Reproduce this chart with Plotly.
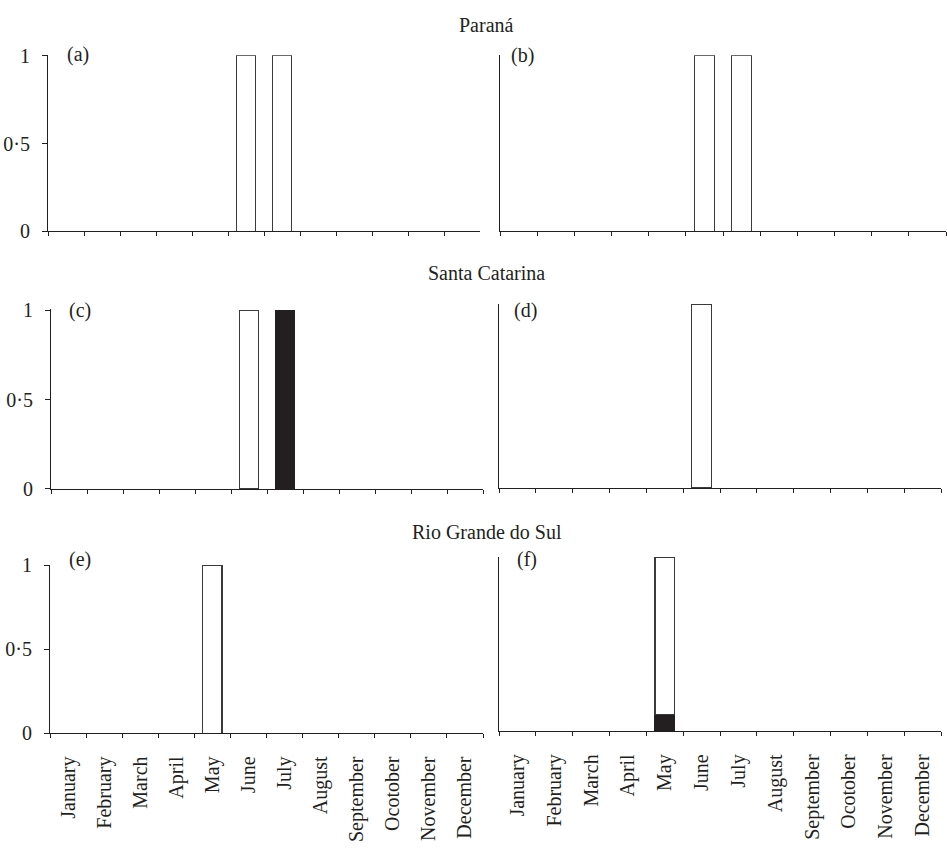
import plotly.graph_objects as go

# ---------------- data ----------------
months = ["January", "February", "March", "April", "May", "June", "July",
          "August", "September", "Ocotober", "November", "December"]
y_tick_vals = [0, 0.5, 1]
y_tick_text = ["0", "0·5", "1"]
region_titles = ["Paraná", "Santa Catarina", "Rio Grande do Sul"]
panel_labels = ["(a)", "(b)", "(c)", "(d)", "(e)", "(f)"]

# open (white) bars
open_a = [0, 0, 0, 0, 0, 1, 1, 0, 0, 0, 0, 0]
open_b = [0, 0, 0, 0, 0, 1, 1, 0, 0, 0, 0, 0]
open_c = [0, 0, 0, 0, 0, 1, 0, 0, 0, 0, 0, 0]
open_d = [0, 0, 0, 0, 0, 1.03, 0, 0, 0, 0, 0, 0]
open_e = [0, 0, 0, 0, 1, 0, 0, 0, 0, 0, 0, 0]
open_f = [0, 0, 0, 0, 0.935, 0, 0, 0, 0, 0, 0, 0]
# filled (black) bars
filled_a = [0, 0, 0, 0, 0, 0, 0, 0, 0, 0, 0, 0]
filled_b = [0, 0, 0, 0, 0, 0, 0, 0, 0, 0, 0, 0]
filled_c = [0, 0, 0, 0, 0, 0, 1, 0, 0, 0, 0, 0]
filled_d = [0, 0, 0, 0, 0, 0, 0, 0, 0, 0, 0, 0]
filled_e = [0, 0, 0, 0, 0, 0, 0, 0, 0, 0, 0, 0]
filled_f = [0, 0, 0, 0, 0.1, 0, 0, 0, 0, 0, 0, 0]

open_series = [open_a, open_b, open_c, open_d, open_e, open_f]
filled_series = [filled_a, filled_b, filled_c, filled_d, filled_e, filled_f]

# ---------------- layout geometry (pixels) ----------------
W, H = 947, 855
# x0, x1, pixel of value 0, pixel of value 1
geom = [
    (48, 480, 227, 47),
    (500, 946, 227, 47),
    (51, 483, 491, 307.7),
    (499, 941, 490, 307.7),
    (50, 483, 741.7, 569.3),
    (499, 941, 739.5, 567.1),
]
label_pos = [(65, 46), (509, 47), (67, 308), (512, 308), (67, 563), (515, 563)]
title_pos = [(487, 15.5), (487, 270), (487, 535)]

INK = "#231f20"
FONT = "Liberation Serif"

fig = go.Figure()
layout = dict(
    width=W, height=H, margin=dict(l=0, r=0, t=0, b=0),
    paper_bgcolor="white", plot_bgcolor="white",
    barmode="stack", showlegend=False,
    font=dict(family=FONT, size=20, color=INK),
)

def clean(vals):
    return [v if v != 0 else None for v in vals]

annotations = []
for i in range(6):
    ax = "" if i == 0 else str(i + 1)
    x0, x1, p0, p1 = geom[i]
    unit = p0 - p1
    top = max(1.0, max(a + b for a, b in zip(open_series[i], filled_series[i])))
    rtop = top + 0.004
    ytop_px = p0 - unit * rtop
    left = (i % 2 == 0)
    bottom_row = (i >= 4)

    fig.add_trace(go.Bar(
        x=months, y=clean(filled_series[i]), xaxis="x" + ax, yaxis="y" + ax,
        width=0.53, marker=dict(color=INK, line=dict(color=INK, width=1)),
        hoverinfo="skip"))
    fig.add_trace(go.Bar(
        x=months, y=clean(open_series[i]), xaxis="x" + ax, yaxis="y" + ax,
        width=0.53, marker=dict(color="white", line=dict(color="#3a3a3a", width=1.2)),
        hoverinfo="skip"))

    layout["xaxis" + ax] = dict(
        domain=[x0 / W, x1 / W], anchor="y" + ax,
        type="category", categoryorder="array", categoryarray=months,
        range=[-0.5, 11.5], tickson="boundaries",
        ticks="outside", ticklen=4, tickwidth=1, tickcolor=INK,
        showline=True, linecolor=INK, linewidth=1,
        showgrid=False, zeroline=False,
        showticklabels=bottom_row, tickangle=-90,
        tickfont=dict(family=FONT, size=20, color=INK),
        ticklabelstandoff=14,
    )
    layout["yaxis" + ax] = dict(
        domain=[1 - p0 / H, 1 - ytop_px / H], anchor="x" + ax,
        range=[0, rtop], showgrid=False, zeroline=False,
        showline=True, linecolor=INK, linewidth=1,
        tickvals=y_tick_vals if left else [], ticktext=y_tick_text if left else [],
        ticks="outside" if left else "", ticklen=5, tickcolor=INK,
        showticklabels=left,
        tickfont=dict(family=FONT, size=20, color=INK),
        ticklabelstandoff=8,
    )
    lx, ly = label_pos[i]
    annotations.append(dict(
        text=panel_labels[i], x=lx / W, y=1 - ly / H, xref="paper", yref="paper",
        xanchor="left", yanchor="middle", showarrow=False,
        font=dict(family=FONT, size=20, color=INK)))

for t, (tx, ty) in zip(region_titles, title_pos):
    annotations.append(dict(
        text=t, x=tx / W, y=1 - ty / H, xref="paper", yref="paper",
        xanchor="center", yanchor="middle", showarrow=False,
        font=dict(family=FONT, size=20, color=INK)))

layout["annotations"] = annotations
fig.update_layout(**layout)
fig.write_html("out.html")
